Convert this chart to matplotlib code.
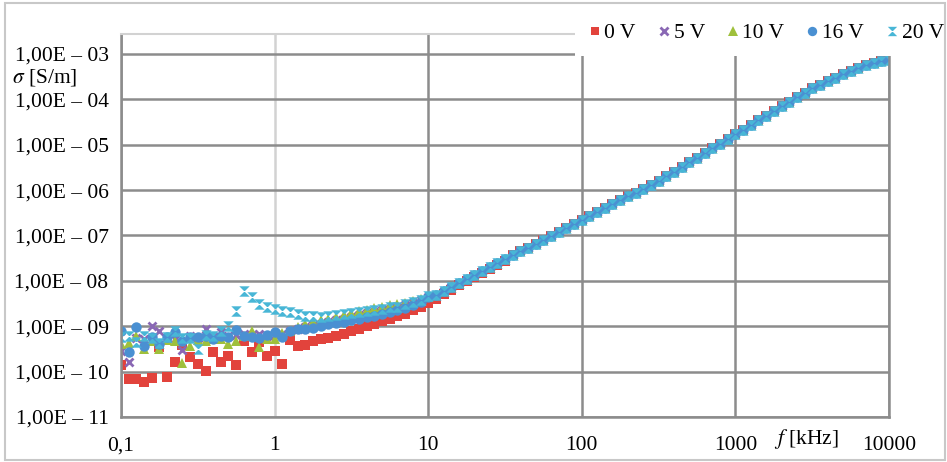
import matplotlib.pyplot as plt
from matplotlib.patches import Rectangle
from matplotlib.path import Path

plt.rcParams["font.family"] = ["Liberation Serif", "DejaVu Serif"]
plt.rcParams["mathtext.fontset"] = "stix"

# sweep: 20 points per decade, 0.1 kHz .. 10 MHz
freq_khz = [
    0.100, 0.112, 0.126, 0.141, 0.158, 0.178, 0.200, 0.224, 0.251, 0.282,
    0.316, 0.355, 0.398, 0.447, 0.501, 0.562, 0.631, 0.708, 0.794, 0.891,
    1.00, 1.12, 1.26, 1.41, 1.58, 1.78, 2.00, 2.24, 2.51, 2.82,
    3.16, 3.55, 3.98, 4.47, 5.01, 5.62, 6.31, 7.08, 7.94, 8.91,
    10.0, 11.2, 12.6, 14.1, 15.8, 17.8, 20.0, 22.4, 25.1, 28.2,
    31.6, 35.5, 39.8, 44.7, 50.1, 56.2, 63.1, 70.8, 79.4, 89.1,
    100, 112, 126, 141, 158, 178, 200, 224, 251, 282,
    316, 355, 398, 447, 501, 562, 631, 708, 794, 891,
    1000, 1120, 1260, 1410, 1580, 1780, 2000, 2240, 2510, 2820,
    3160, 3550, 3980, 4470, 5010, 5620, 6310, 7080, 7940, 8910,
    10000,
]

# above ~10 kHz all bias voltages fall on the same curve (S/m)
sigma_tail = [
    4.97e-9, 6.07e-9, 7.40e-9, 9.03e-9, 1.10e-8, 1.35e-8, 1.64e-8, 2.00e-8, 2.45e-8, 2.99e-8,
    3.64e-8, 4.45e-8, 5.42e-8, 6.62e-8, 8.08e-8, 9.86e-8, 1.20e-7, 1.47e-7, 1.79e-7, 2.19e-7,
    2.67e-7, 3.26e-7, 3.98e-7, 4.85e-7, 5.92e-7, 7.23e-7, 8.82e-7, 1.08e-6, 1.31e-6, 1.60e-6,
    2.03e-6, 2.57e-6, 3.25e-6, 4.12e-6, 5.22e-6, 6.61e-6, 8.36e-6, 1.06e-5, 1.34e-5, 1.70e-5,
    2.15e-5, 2.72e-5, 3.45e-5, 4.37e-5, 5.53e-5, 7.00e-5, 8.86e-5, 1.12e-4, 1.41e-4, 1.74e-4,
    2.09e-4, 2.51e-4, 3.02e-4, 3.55e-4, 4.17e-4, 4.90e-4, 5.62e-4, 6.31e-4, 6.92e-4, 7.41e-4,
]

sigma_0v = [
    1.41e-10, 6.92e-11, 6.92e-11, 6.03e-11, 7.08e-11, 3.55e-10, 7.59e-11, 1.62e-10, 3.80e-10, 2.09e-10,
    1.48e-10, 1.05e-10, 2.75e-10, 1.62e-10, 2.19e-10, 1.41e-10, 4.79e-10, 2.75e-10, 4.47e-10, 2.19e-10,
    2.88e-10, 1.48e-10, 5.01e-10, 3.72e-10, 3.80e-10, 4.68e-10, 5.13e-10, 5.62e-10, 6.17e-10, 6.76e-10,
    7.76e-10, 8.71e-10, 1.00e-9, 1.12e-9, 1.29e-9, 1.45e-9, 1.66e-9, 1.86e-9, 2.24e-9, 2.69e-9,
    3.31e-9, 4.07e-9, 5.01e-9, 6.31e-9, 7.94e-9, 9.77e-9, 1.20e-8, 1.48e-8, 1.82e-8, 2.24e-8,
    2.75e-8,
]
sigma_5v = [
    2.82e-10, 1.66e-10, 5.62e-10, 5.25e-10, 1.00e-9, 7.76e-10, 5.62e-10, 5.25e-10, 2.95e-10, 6.03e-10,
    5.50e-10, 8.51e-10, 6.03e-10, 7.59e-10, 6.03e-10, 6.31e-10, 6.61e-10, 6.31e-10, 6.61e-10, 6.03e-10,
    6.31e-10, 6.61e-10, 7.94e-10, 8.71e-10, 9.55e-10, 1.05e-9, 1.12e-9, 1.23e-9, 1.35e-9, 1.45e-9,
    1.58e-9, 1.74e-9, 1.91e-9, 2.04e-9, 2.24e-9, 2.45e-9, 2.69e-9, 2.95e-9, 3.31e-9, 3.72e-9,
    4.37e-9,
]
sigma_10v = [
    4.07e-10, 4.17e-10, 6.03e-10, 3.16e-10, 4.79e-10, 3.16e-10, 5.01e-10, 4.68e-10, 1.58e-10, 3.72e-10,
    5.01e-10, 4.79e-10, 5.25e-10, 5.13e-10, 4.07e-10, 4.79e-10, 6.03e-10, 7.94e-10, 3.47e-10, 5.25e-10,
    5.25e-10, 7.08e-10, 7.94e-10, 9.55e-10, 1.12e-9, 1.23e-9, 1.35e-9, 1.48e-9, 1.62e-9, 1.78e-9,
    1.95e-9, 2.14e-9, 2.29e-9, 2.51e-9, 2.69e-9, 2.88e-9, 3.09e-9, 3.31e-9, 3.55e-9, 3.89e-9,
    4.47e-9,
]
sigma_16v = [
    7.76e-10, 2.69e-10, 9.55e-10, 3.72e-10, 5.75e-10, 4.07e-10, 5.75e-10, 7.41e-10, 4.68e-10, 5.75e-10,
    5.75e-10, 6.17e-10, 5.25e-10, 6.03e-10, 5.75e-10, 8.13e-10, 6.17e-10, 5.75e-10, 5.50e-10, 6.31e-10,
    7.41e-10, 5.75e-10, 7.94e-10, 8.71e-10, 8.91e-10, 9.33e-10, 1.00e-9, 1.10e-9, 1.17e-9, 1.26e-9,
    1.35e-9, 1.45e-9, 1.58e-9, 1.70e-9, 1.86e-9, 2.09e-9, 2.29e-9, 2.51e-9, 2.95e-9, 3.39e-9,
    4.37e-9,
]
sigma_20v = [
    5.75e-10, 6.17e-10, 4.47e-10, 6.17e-10, 5.37e-10, 4.27e-10, 5.75e-10, 7.94e-10, 5.62e-10, 5.37e-10,
    3.16e-10, 6.46e-10, 6.03e-10, 7.94e-10, 1.02e-9, 2.19e-9, 6.03e-9, 4.37e-9, 3.16e-9, 2.69e-9,
    2.40e-9, 2.19e-9, 2.09e-9, 1.86e-9, 1.70e-9, 1.66e-9, 1.58e-9, 1.70e-9, 1.78e-9, 1.86e-9,
    2.00e-9, 2.04e-9, 2.19e-9, 2.24e-9, 2.40e-9, 2.63e-9, 2.69e-9, 3.02e-9, 3.39e-9, 3.72e-9,
    4.57e-9,
]

labels = ["0 V", "5 V", "10 V", "16 V", "20 V"]
colors = ["#e2433c", "#8a68b4", "#9fc03c", "#4a90d2", "#48b6d6"]

xticks = [0.1, 1, 10, 100, 1000, 10000]
xtick_labels = ["0,1", "1", "10", "100", "1000", "10000"]
yticks = [1e-11, 1e-10, 1e-9, 1e-8, 1e-7, 1e-6, 1e-5, 1e-4, 1e-3]
ytick_labels = [
    "1,00E – 11", "1,00E – 10", "1,00E – 09", "1,00E – 08", "1,00E – 07",
    "1,00E – 06", "1,00E – 05", "1,00E – 04", "1,00E – 03",
]


def full_series(low):
    # low-frequency points per voltage, then the shared high-frequency part
    return low + sigma_tail[len(low) - 41:]


hourglass = Path(
    [(-1, 1), (1, 1), (-1, -1), (1, -1), (-1, 1)],
    [Path.MOVETO, Path.LINETO, Path.LINETO, Path.LINETO, Path.CLOSEPOLY],
)
marker_styles = [
    dict(marker="s", ms=6.8, mew=0),
    dict(marker="x", ms=6.0, mew=2.0),
    dict(marker="^", ms=7.5, mew=0),
    dict(marker="o", ms=7.5, mew=0),
    dict(marker=hourglass, ms=7.5, mew=0),
]

W, H = 947, 462
grid_color = "#8c8c8c"
light_color = "#d2d2d2"

fig = plt.figure(figsize=(W / 100, H / 100), dpi=100)
ax = fig.add_axes([121 / W, 45 / H, (889 - 121) / W, (428 - 45) / H])
ax.set_xscale("log")
ax.set_yscale("log")

all_series = [sigma_0v, sigma_5v, sigma_10v, sigma_16v, sigma_20v]
for values, label, color, style in zip(all_series, labels, colors, marker_styles):
    ax.plot(freq_khz, full_series(values), linestyle="none", color=color,
            mec=color, label=label, **style)

ax.set_xlim(0.1, 10000)
ax.set_ylim(1e-11, 10 ** -2.56)
ax.set_xticks(xticks)
ax.set_xticklabels(xtick_labels)
ax.set_yticks(yticks)
ax.set_yticklabels(ytick_labels)
ax.minorticks_off()
ax.tick_params(length=0, labelsize=15.5)
ax.tick_params(axis="y", pad=9)
ax.tick_params(axis="x", pad=14)

ax.set_axisbelow(True)
ax.grid(True, which="major", color=grid_color, lw=1.8)
ax.xaxis.get_major_ticks()[1].gridline.set_color(light_color)
for side in ["left", "bottom", "right"]:
    ax.spines[side].set_color(grid_color)
    ax.spines[side].set_linewidth(1.8)
ax.spines["top"].set_color(light_color)
ax.spines["top"].set_linewidth(1.5)

fig.text(12 / W, 1 - 77 / H, r"$\sigma$ [S/m]", fontsize=15.5, ha="left", va="center")
fig.text(806 / W, 1 - 439 / H, r"$f$ [kHz]", fontsize=15.5, ha="center", va="center")

# white box behind the legend, it hides the top of the grid
fig.add_artist(Rectangle((575 / W, 1 - 56 / H), (943 - 575) / W, 44 / H,
                         transform=fig.transFigure, facecolor="white",
                         edgecolor="none", zorder=3))
handles, names = ax.get_legend_handles_labels()
leg = fig.legend(handles, names, loc="center", bbox_to_anchor=(766 / W, 1 - 33 / H),
                 ncol=5, frameon=False, fontsize=15.5, handlelength=0.6,
                 handletextpad=0.15, columnspacing=1.0, borderaxespad=0,
                 markerscale=0.9)
leg.set_zorder(4)

# thin frame round the whole figure
fig.add_artist(Rectangle((5 / W, 2 / H), (945 - 5) / W, (459 - 2) / H,
                         transform=fig.transFigure, fill=False,
                         edgecolor="#c8c8c8", lw=1.5))

fig.savefig("out.png", dpi=100)
plt.close(fig)
